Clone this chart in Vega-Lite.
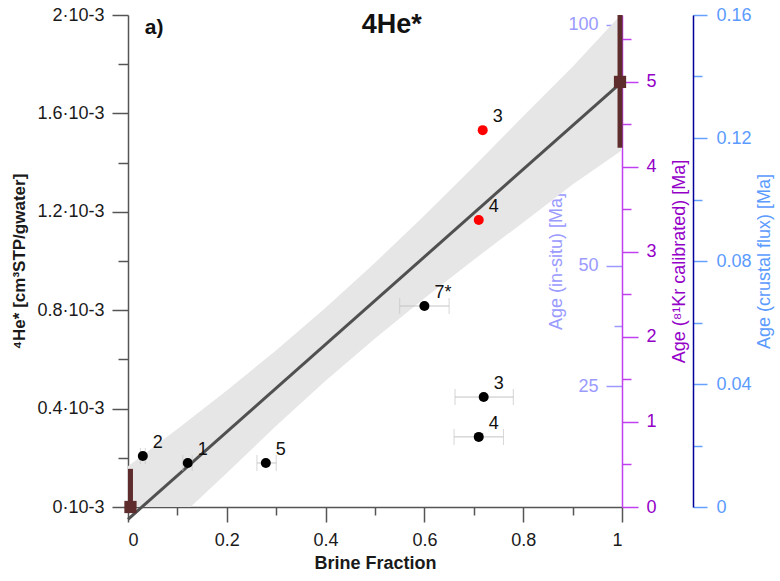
{
  "$schema": "https://vega.github.io/schema/vega-lite/v6.json",
  "width": 494,
  "height": 492,
  "autosize": "none",
  "padding": {"left": 128, "top": 15, "right": 158, "bottom": 74},
  "background": "white",
  "config": {
    "font": "Liberation Sans",
    "view": {"stroke": null},
    "axis": {"grid": false, "labelFont": "Liberation Sans", "titleFont": "Liberation Sans"}
  },
  "datasets": {
    "band": [
      {"bf": 0.0, "lo": -0.000266, "hi": 0.000166},
      {"bf": 0.1, "lo": -0.00005, "hi": 0.000317},
      {"bf": 0.2, "lo": 0.000138, "hi": 0.000474},
      {"bf": 0.3, "lo": 0.00033, "hi": 0.000637},
      {"bf": 0.4, "lo": 0.000513, "hi": 0.00081},
      {"bf": 0.5, "lo": 0.000685, "hi": 0.000993},
      {"bf": 0.6, "lo": 0.000849, "hi": 0.001185},
      {"bf": 0.7, "lo": 0.001005, "hi": 0.001384},
      {"bf": 0.8, "lo": 0.001157, "hi": 0.001588},
      {"bf": 0.9, "lo": 0.001311, "hi": 0.00179},
      {"bf": 1.0, "lo": 0.00145, "hi": 0.002006}
    ],
    "fit": [
      {"bf": 0.0, "he": -0.00005},
      {"bf": 1.0, "he": 0.001728}
    ],
    "samples": [
      {"lab": "2", "bf": 0.03, "he": 0.000207, "xlo": 0.025, "xhi": 0.035, "grp": "measured"},
      {"lab": "1", "bf": 0.121, "he": 0.000179, "xlo": 0.111, "xhi": 0.13, "grp": "measured"},
      {"lab": "5", "bf": 0.279, "he": 0.000179, "xlo": 0.261, "xhi": 0.3, "grp": "measured"},
      {"lab": "7*", "bf": 0.6, "he": 0.000817, "xlo": 0.55, "xhi": 0.65, "grp": "measured"},
      {"lab": "3", "bf": 0.72, "he": 0.000447, "xlo": 0.662, "xhi": 0.78, "grp": "measured"},
      {"lab": "4", "bf": 0.71, "he": 0.000285, "xlo": 0.66, "xhi": 0.76, "grp": "measured"},
      {"lab": "3", "bf": 0.718, "he": 0.001532, "grp": "corrected"},
      {"lab": "4", "bf": 0.71, "he": 0.001167, "grp": "corrected"}
    ],
    "endmembers": [
      {"bf": 0.005, "he": 0.0, "lo": 0.0, "hi": 0.000155},
      {"bf": 0.996, "he": 0.001728, "lo": 0.00146, "hi": 0.002}
    ],
    "annotations": [
      {"bf": 0.034, "he": 0.001947, "t": "a)", "kind": "panel"},
      {"bf": 0.534, "he": 0.00196, "t": "4He*", "kind": "title"}
    ]
  },
  "layer": [
    {
      "layer": [
        {
          "data": {"name": "band"},
          "mark": {"type": "area", "color": "#e6e6e6", "clip": true},
          "encoding": {
            "x": {
              "field": "bf", "type": "quantitative",
              "scale": {"domain": [0, 1], "nice": false, "zero": false},
              "axis": {
                "values": [0, 0.1, 0.2, 0.3, 0.4, 0.5, 0.6, 0.7, 0.8, 0.9, 1],
                "labelExpr": "round(datum.value*10)%2==0 ? format(datum.value,'~g') : ''",
                "tickSize": {"condition": {"test": "round(datum.value*10)%2==0", "value": 15}, "value": 8},
                "tickColor": "#555555", "tickWidth": 1.5,
                "domainColor": "#555555", "domainWidth": 1.5,
                "labelFontSize": 18, "labelColor": "#1a1a1a", "labelPadding": 9,
                "title": "Brine Fraction", "titleFontSize": 18, "titleFontWeight": "bold",
                "titleColor": "#1a1a1a", "titlePadding": 5
              }
            },
            "y": {
              "field": "lo", "type": "quantitative",
              "scale": {"domain": [0, 0.002], "nice": false, "zero": false},
              "axis": {
                "values": [0, 0.0002, 0.0004, 0.0006, 0.0008, 0.001, 0.0012, 0.0014, 0.0016, 0.0018, 0.002],
                "labelExpr": "round(datum.value*10000)%4==0 ? format(datum.value*1000,'~g')+'·10-3' : ''",
                "tickSize": {"condition": {"test": "round(datum.value*10000)%4==0", "value": 16}, "value": 10},
                "tickColor": "#555555", "tickWidth": 1.5,
                "domainColor": "#555555", "domainWidth": 1.5,
                "labelFontSize": 18, "labelColor": "#1a1a1a", "labelPadding": 8,
                "title": "⁴He* [cm³STP/gwater]", "titleFontSize": 17, "titleFontWeight": "bold",
                "titleColor": "#1a1a1a", "titlePadding": 8
              }
            },
            "y2": {"field": "hi"}
          }
        },
        {
          "data": {"name": "fit"},
          "mark": {"type": "line", "color": "#505050", "strokeWidth": 3},
          "encoding": {
            "x": {"field": "bf", "type": "quantitative", "scale": {"domain": [0, 1], "nice": false, "zero": false}},
            "y": {"field": "he", "type": "quantitative", "scale": {"domain": [0, 0.002], "nice": false, "zero": false}}
          }
        },
        {
          "data": {"name": "samples"},
          "transform": [{"filter": "isValid(datum.xlo)"}],
          "layer": [
            {
              "mark": {"type": "rule", "color": "#c4c4c4", "strokeWidth": 1},
              "encoding": {
                "x": {"field": "xlo", "type": "quantitative", "scale": {"domain": [0, 1], "nice": false, "zero": false}},
                "x2": {"field": "xhi"},
                "y": {"field": "he", "type": "quantitative", "scale": {"domain": [0, 0.002], "nice": false, "zero": false}}
              }
            },
            {
              "mark": {"type": "tick", "orient": "vertical", "color": "#c4c4c4", "size": 16, "thickness": 1},
              "encoding": {
                "x": {"field": "xlo", "type": "quantitative", "scale": {"domain": [0, 1], "nice": false, "zero": false}},
                "y": {"field": "he", "type": "quantitative", "scale": {"domain": [0, 0.002], "nice": false, "zero": false}}
              }
            },
            {
              "mark": {"type": "tick", "orient": "vertical", "color": "#c4c4c4", "size": 16, "thickness": 1},
              "encoding": {
                "x": {"field": "xhi", "type": "quantitative", "scale": {"domain": [0, 1], "nice": false, "zero": false}},
                "y": {"field": "he", "type": "quantitative", "scale": {"domain": [0, 0.002], "nice": false, "zero": false}}
              }
            }
          ]
        },
        {
          "data": {"name": "samples"},
          "mark": {"type": "circle", "size": 100, "opacity": 1},
          "encoding": {
            "x": {"field": "bf", "type": "quantitative", "scale": {"domain": [0, 1], "nice": false, "zero": false}},
            "y": {"field": "he", "type": "quantitative", "scale": {"domain": [0, 0.002], "nice": false, "zero": false}},
            "color": {"field": "grp", "type": "nominal", "scale": {"domain": ["measured", "corrected"], "range": ["#000000", "#ff0000"]}, "legend": null}
          }
        },
        {
          "data": {"name": "samples"},
          "mark": {"type": "text", "align": "left", "baseline": "middle", "dx": 10, "dy": -13, "fontSize": 18, "color": "#111111"},
          "encoding": {
            "x": {"field": "bf", "type": "quantitative", "scale": {"domain": [0, 1], "nice": false, "zero": false}},
            "y": {"field": "he", "type": "quantitative", "scale": {"domain": [0, 0.002], "nice": false, "zero": false}},
            "text": {"field": "lab"}
          }
        },
        {
          "data": {"name": "endmembers"},
          "mark": {"type": "rule", "color": "#5e2c2c", "strokeWidth": 5},
          "encoding": {
            "x": {"field": "bf", "type": "quantitative", "scale": {"domain": [0, 1], "nice": false, "zero": false}},
            "y": {"field": "lo", "type": "quantitative", "scale": {"domain": [0, 0.002], "nice": false, "zero": false}},
            "y2": {"field": "hi"}
          }
        },
        {
          "data": {"name": "endmembers"},
          "mark": {"type": "point", "shape": "square", "filled": true, "size": 150, "color": "#5e2c2c", "opacity": 1},
          "encoding": {
            "x": {"field": "bf", "type": "quantitative", "scale": {"domain": [0, 1], "nice": false, "zero": false}},
            "y": {"field": "he", "type": "quantitative", "scale": {"domain": [0, 0.002], "nice": false, "zero": false}}
          }
        },
        {
          "data": {"name": "annotations"},
          "transform": [{"filter": "datum.kind == 'panel'"}],
          "mark": {"type": "text", "align": "left", "baseline": "middle", "fontSize": 21, "fontWeight": "bold", "color": "#111111"},
          "encoding": {
            "x": {"field": "bf", "type": "quantitative", "scale": {"domain": [0, 1], "nice": false, "zero": false}},
            "y": {"field": "he", "type": "quantitative", "scale": {"domain": [0, 0.002], "nice": false, "zero": false}},
            "text": {"field": "t"}
          }
        },
        {
          "data": {"name": "annotations"},
          "transform": [{"filter": "datum.kind == 'title'"}],
          "mark": {"type": "text", "align": "center", "baseline": "middle", "fontSize": 27, "fontWeight": "bold", "color": "#111111"},
          "encoding": {
            "x": {"field": "bf", "type": "quantitative", "scale": {"domain": [0, 1], "nice": false, "zero": false}},
            "y": {"field": "he", "type": "quantitative", "scale": {"domain": [0, 0.002], "nice": false, "zero": false}},
            "text": {"field": "t"}
          }
        }
      ]
    },
    {
      "data": {"values": [{"age": 0}, {"age": 100}]},
      "mark": {"type": "point", "opacity": 0},
      "encoding": {
        "y": {
          "field": "age", "type": "quantitative",
          "scale": {"domain": [0, 102.07], "nice": false, "zero": false},
          "axis": {
            "orient": "left", "offset": -494,
            "values": [25, 37.5, 50, 75, 100],
            "labelExpr": "datum.value==37.5 ? '' : format(datum.value,'~g')",
            "tickSize": {"condition": {"test": "datum.value==37.5", "value": 8}, "value": 16},
            "domain": false, "tickColor": "#9a9aff", "tickWidth": 1.5,
            "labelColor": "#9a9aff", "labelFontSize": 18, "labelPadding": 8,
            "title": "Age (in-situ) [Ma]", "titleColor": "#9a9aff", "titleFontSize": 18,
            "titleFontWeight": "normal", "titlePadding": 2
          }
        }
      }
    },
    {
      "data": {"values": [{"age": 0}, {"age": 5}]},
      "mark": {"type": "point", "opacity": 0},
      "encoding": {
        "y": {
          "field": "age", "type": "quantitative",
          "scale": {"domain": [0, 5.788], "nice": false, "zero": false},
          "axis": {
            "orient": "right",
            "values": [0, 0.5, 1, 1.5, 2, 2.5, 3, 3.5, 4, 4.5, 5, 5.5],
            "labelExpr": "datum.value%1==0 ? format(datum.value,'~g') : ''",
            "tickSize": {"condition": {"test": "datum.value%1==0", "value": 16}, "value": 9},
            "domainColor": "#c040f0", "domainWidth": 1.5, "tickColor": "#c040f0", "tickWidth": 1.5,
            "labelColor": "#9400c8", "labelFontSize": 18, "labelPadding": 8,
            "title": "Age (⁸¹Kr calibrated) [Ma]", "titleColor": "#9400c8", "titleFontSize": 18,
            "titleFontWeight": "normal", "titleAngle": 270, "titleBaseline": "top", "titlePadding": 14
          }
        }
      }
    },
    {
      "data": {"values": [{"age": 0}, {"age": 0.16}]},
      "mark": {"type": "point", "opacity": 0},
      "encoding": {
        "y": {
          "field": "age", "type": "quantitative",
          "scale": {"domain": [0, 0.16], "nice": false, "zero": false},
          "axis": {
            "orient": "right", "offset": 71,
            "values": [0, 0.02, 0.04, 0.06, 0.08, 0.1, 0.12, 0.14, 0.16],
            "labelExpr": "round(datum.value*100)%4==0 ? format(datum.value,'~g') : ''",
            "tickSize": {"condition": {"test": "round(datum.value*100)%4==0", "value": 14}, "value": 9},
            "domainColor": "#000099", "domainWidth": 1.5, "tickColor": "#66a0ff", "tickWidth": 1.5,
            "labelColor": "#5b9bff", "labelFontSize": 18, "labelPadding": 9,
            "title": "Age (crustal flux) [Ma]", "titleColor": "#5b9bff", "titleFontSize": 18,
            "titleFontWeight": "normal", "titleAngle": 270, "titleBaseline": "top", "titlePadding": 4
          }
        }
      }
    }
  ],
  "resolve": {"scale": {"y": "independent"}, "axis": {"y": "independent"}}
}
